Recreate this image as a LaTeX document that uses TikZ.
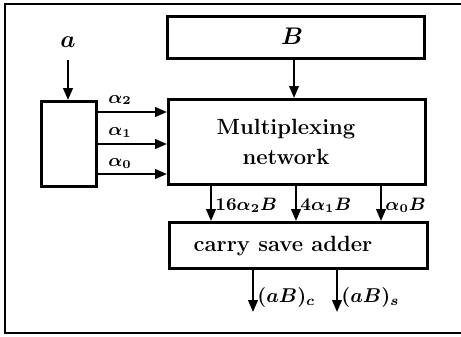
\documentclass[tikz,border=0pt]{standalone}
\usepackage{amsmath,bm}
\usetikzlibrary{arrows.meta}
\begin{document}
\begin{tikzpicture}[x=0.5pt,y=-0.5pt,
  blk/.style={draw,line width=1.5pt,inner sep=0pt,anchor=north west},
  arr/.style={line width=1.1pt,-{Triangle[length=6pt,width=4.8pt]}},
  lbl/.style={font=\small\boldmath,inner sep=1pt},
  txt/.style={font=\fontsize{11}{15}\selectfont\bfseries}]
\useasboundingbox (0,0) rectangle (461,337);
\draw[line width=0.8pt] (470,4) -- (5,4) -- (5,333) -- (470,333);
% boxes
\node[blk,minimum width=128.5pt,minimum height=21pt] (B) at (166,15) {};
\node[font=\large\boldmath] (Bt) at (292,36) {$\bm{B}$};
\node[blk,minimum width=128.5pt,minimum height=42.5pt] (M) at (167,98) {};
\node[txt,align=center] (Mt) at (286,142) {Multiplexing\\network};
\node[blk,minimum width=27.5pt,minimum height=42.5pt] (L) at (40,100) {};
\node[blk,minimum width=129pt,minimum height=23pt] (C) at (168,221) {};
\node[txt] (Ct) at (283,246) {carry save adder};
% input a
\node[font=\large\boldmath] (a) at (68,42) {$a$};
\coordinate (a0) at (68,60);
\draw[arr] (a0) -- (a0 |- L.north);
% B to mux
\draw[arr] (294,57) -- (294,98);
% alpha arrows
\foreach \y/\i in {112/2,144/1,174/0}{
  \coordinate (s\i) at (95,\y);
  \draw[arr] (s\i) -- (s\i -| M.west);
}
\node[lbl] (l2) at (120,100) {$\alpha_2$};
\node[lbl] (l1) at (120,132) {$\alpha_1$};
\node[lbl] (l0) at (120,163) {$\alpha_0$};
% mux to csa
\foreach \x/\i in {211/a,296/b,381/c}{
  \coordinate (m\i) at (\x,183);
  \draw[arr] (m\i) -- (m\i |- C.north);
}
\node[lbl,anchor=west] at (213,205) {$16\alpha_2B$};
\node[lbl,anchor=west] at (298,205) {$4\alpha_1B$};
\node[lbl,anchor=west] at (383,205) {$\alpha_0B$};
% outputs
\coordinate (o1) at (253,312);
\coordinate (o2) at (337,312);
\draw[arr] (o1 |- C.south) -- (o1);
\draw[arr] (o2 |- C.south) -- (o2);
\node[font=\boldmath,anchor=west,inner sep=1pt] at (255,297) {$(aB)_c$};
\node[font=\boldmath,anchor=west,inner sep=1pt] at (339,297) {$(aB)_s$};
\end{tikzpicture}
\end{document}
